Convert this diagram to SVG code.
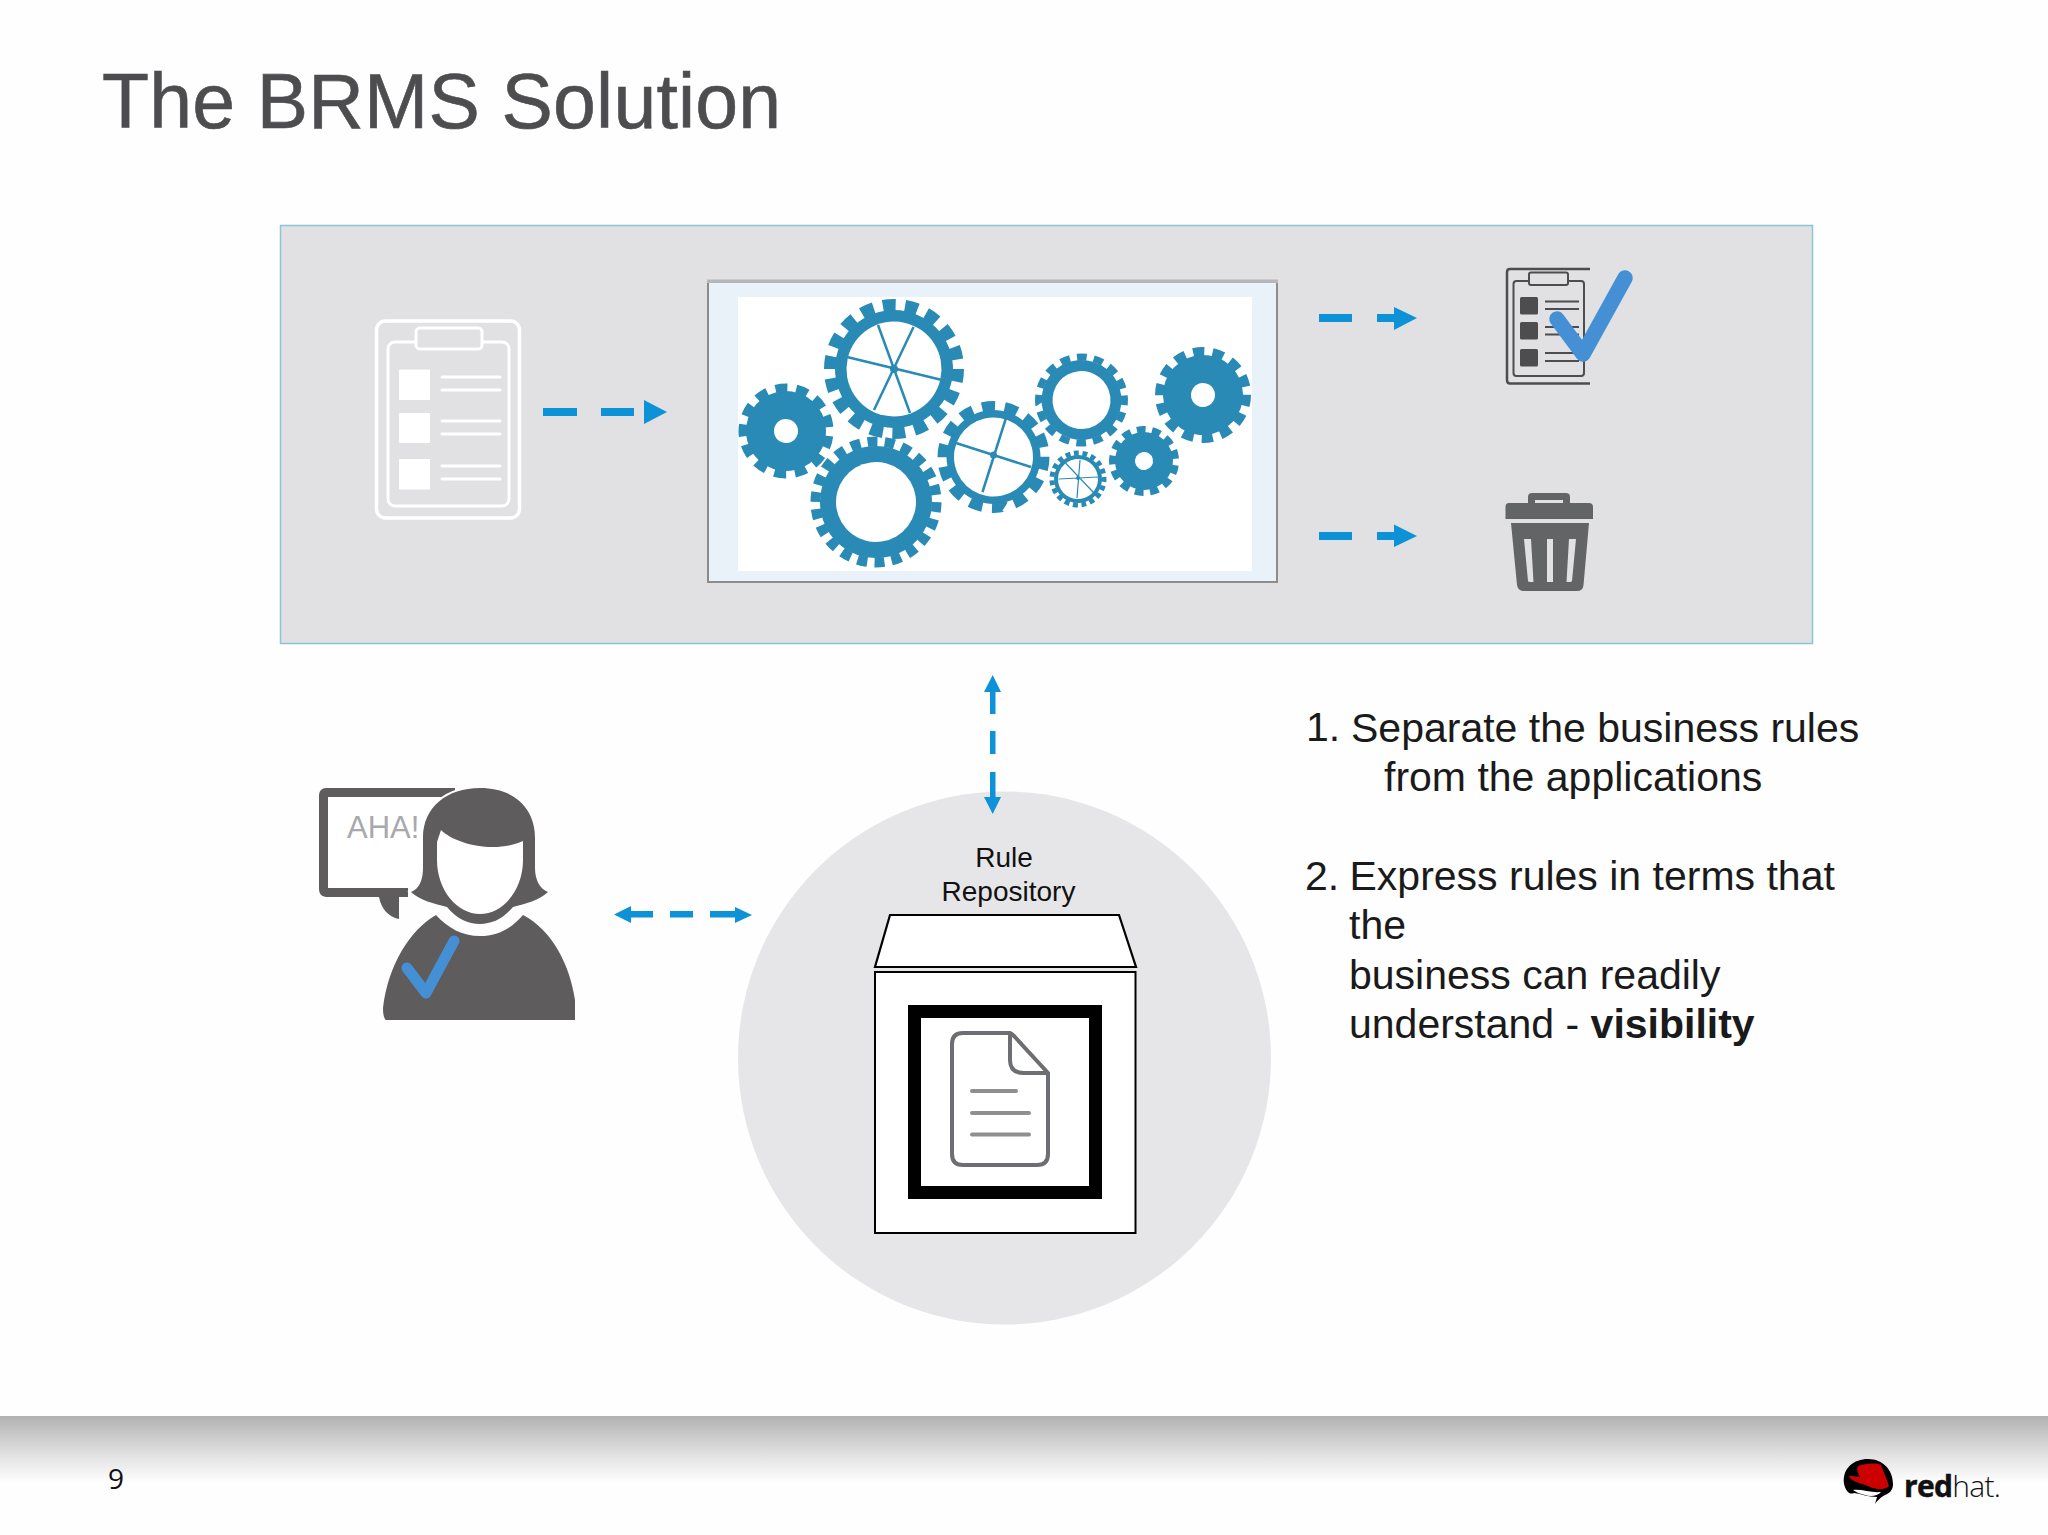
<svg xmlns="http://www.w3.org/2000/svg" width="2048" height="1535" viewBox="0 0 2048 1535">
<defs>
<linearGradient id="foot" x1="0" y1="0" x2="0" y2="1"><stop offset="0" stop-color="#b2b2b3"/><stop offset=".6" stop-color="#e2e2e2"/><stop offset="1" stop-color="#fefefe"/></linearGradient>
</defs>
<style>
text{font-family:"Liberation Sans",Arial,sans-serif}
.ar{fill:#0d92d8}
.g{fill:#2a8ab6}
.h{fill:#fff}
.t{fill:none;stroke:#2a8ab6;stroke-dasharray:1.15 .85}
.sp{stroke:#2a8ab6;fill:none}
.body{font-size:41px;fill:#1a1a1a}
.dk{fill:none;stroke:#4d4d4f}
.dkf{fill:#4d4d4f}
.wh{fill:none;stroke:#fff}
.whf{fill:#fff}
.chk{fill:none;stroke:#4590d5;stroke-linecap:round;stroke-linejoin:round}
.ps{fill:#5e5c5d}
.tr{fill:#636466}
.bk{fill:none;stroke:#000}
.docl{stroke:#8f8f90;stroke-width:4;stroke-linecap:round}
</style>
<rect width="2048" height="1535" fill="#fefefe"/>
<text id="title" x="102" y="128" font-size="77" letter-spacing=".18" fill="#4d4d4f" stroke="#4d4d4f" stroke-width=".6">The BRMS Solution</text>
<rect id="pipeline" x="280.500" y="225.500" width="1532" height="418" fill="#e1e1e3" stroke="#8cc4d8" stroke-width="1.500"/>

<g id="clipboard-in">
<rect class="wh" x="376.500" y="321" width="143" height="197" rx="9" stroke-width="3.500"/>
<rect class="wh" x="388" y="342" width="121" height="164" rx="7" stroke-width="3"/>
<rect x="416" y="328" width="66" height="21" rx="4" fill="#e1e1e3" stroke="#fff" stroke-width="3"/>
<rect class="whf" x="399" y="369.500" width="31" height="30.500" rx="1"/>
<rect class="whf" x="399" y="413" width="31" height="30" rx="1"/>
<rect class="whf" x="399" y="459" width="31" height="30.500" rx="1"/>
<path class="wh" stroke-width="3" stroke-linecap="round" d="M442 377H500M442 390H500M442 421H500M442 434H500M442 466H500M442 479H500"/>
</g>

<g id="rule-engine">
<rect x="708" y="281" width="569" height="301" fill="#e8f2f8" stroke="#8a8c8e" stroke-width="2"/>
<rect x="707" y="279.500" width="571" height="3.500" fill="#b5b7ba"/>
<rect class="h" x="738" y="297" width="514" height="274"/>
<g transform="translate(894 369) rotate(-100)"><circle class="g" r="59"/><circle class="h" r="47.500"/><circle class="t" r="64" stroke-width="12" pathLength="36"/></g>
<path class="sp" stroke-width="2.500" d="M847 357L942 380M878 325L910 413M913.500 327L874 410"/><circle class="g" cx="894" cy="369" r="4"/>
<g transform="translate(786 431) rotate(-104)"><circle class="g" r="40"/><circle class="h" r="12"/><circle class="t" r="43" stroke-width="9" pathLength="26"/></g>
<g transform="translate(876 502) rotate(-98)"><circle class="g" r="56"/><circle class="h" r="40"/><circle class="t" r="60.500" stroke-width="10" pathLength="44"/></g>
<g transform="translate(993.500 457) rotate(-103)"><circle class="g" r="47"/><circle class="h" r="39.500"/><circle class="t" r="51" stroke-width="10" pathLength="28"/></g>
<path class="sp" stroke-width="2.500" d="M956 443L1031 467M1006 418L982.500 492"/><circle class="g" cx="993.500" cy="455" r="3.500"/>
<g transform="translate(1081.500 400) rotate(-96)"><circle class="g" r="40"/><circle class="h" r="29"/><circle class="t" r="43" stroke-width="7" pathLength="32"/></g>
<g transform="translate(1203 395) rotate(-103)"><circle class="g" r="40"/><circle class="h" r="12"/><circle class="t" r="43.500" stroke-width="9" pathLength="28"/></g>
<g transform="translate(1144 461) rotate(-103)"><circle class="g" r="29"/><circle class="h" r="9"/><circle class="t" r="31.500" stroke-width="7" pathLength="26"/></g>
<g transform="translate(1078 479) rotate(-99)"><circle class="g" r="24"/><circle class="h" r="20"/><circle class="t" r="26" stroke-width="5" pathLength="38"/></g>
<path class="sp" stroke-width="1.200" d="M1058.600 479L1098 477M1065.500 463L1094 493M1080 460L1077 498"/><circle class="g" cx="1078" cy="478" r="2"/>
</g>

<g id="clipboard-approved">
<path class="dk" stroke-width="2.500" d="M1590 269H1510Q1507 269 1507 272V380Q1507 383.500 1510 383.500H1590"/>
<rect class="dk" x="1513.500" y="281" width="70.500" height="95" rx="3" stroke-width="2"/>
<rect x="1529" y="272.500" width="39" height="12.500" rx="2" fill="#e1e1e3" stroke="#4d4d4f" stroke-width="2"/>
<rect class="dkf" x="1520" y="297" width="18" height="17.500" rx="1.500"/>
<rect class="dkf" x="1520" y="322" width="18" height="17.500" rx="1.500"/>
<rect class="dkf" x="1520" y="349" width="18" height="17.500" rx="1.500"/>
<path class="dk" stroke-width="2" d="M1545 301.500H1579M1545 309H1579M1545 327H1579M1545 334.500H1579M1545 353H1579M1545 361H1579"/>
<path class="chk" stroke-width="15.500" d="M1557 319L1583 354L1625 278"/>
</g>

<g id="trash">
<path class="tr" fill-rule="evenodd" d="M1528 503V497Q1528 493 1532 493H1566Q1570 493 1570 497V503H1589Q1593 503 1593 507V519H1505.500V507Q1505.500 503 1509 503ZM1535 500V503H1563V500Z"/>
<path class="tr" fill-rule="evenodd" d="M1511 523H1589L1583.500 585Q1583 591 1577 591H1524Q1518 591 1517 585ZM1524 539L1528 581Q1528.500 582 1530 582H1533.500L1531 539ZM1547 539V582H1553V539ZM1569 539L1566.500 582H1570Q1571.500 582 1572 581L1576 539Z"/>
</g>

<g id="person">
<path fill="#fff" stroke="#5e5c5d" stroke-width="9" d="M455 792.500H326Q323.500 792.500 323.500 795V889Q323.500 892.500 326 892.500H408"/>
<path class="ps" d="M379 897H399V919C388 917 381 908 379 897Z"/>
<rect class="ps" x="395" y="888" width="13" height="9"/>
<text x="347" y="838" font-size="31" fill="#a7a9ac">AHA!</text>
<path class="ps" stroke="#fff" stroke-width="4" paint-order="stroke" d="M480 788C513 788 535 807 535 838V868C535 880 540 889 548 892C540 900 525 904 513 907C503 919 492 924 480 924C468 924 457 919 447 907C435 904 419 900 411 892C419 889 423 880 423 868V838C423 807 447 788 480 788Z"/>
<path class="whf" d="M441 830C455 844 495 854 523 841V860C523 890 503 914 480 914C457 914 437 890 437 860V842Z"/>
<path class="ps" d="M436 915C448 928 462 936 480 936C498 936 512 928 523 915C552 930 570 965 575 1000V1020H386Q383 1018 383 1008C388 965 410 930 436 915Z"/>
<path class="chk" stroke-width="11" d="M407 968L426 993L454 941"/>
</g>

<g id="rule-repository">
<circle cx="1004.500" cy="1058" r="266.500" fill="#e6e6e8"/>
<text x="1004" y="867" font-size="28" fill="#111" text-anchor="middle">Rule</text>
<text x="1008.500" y="901" font-size="28" fill="#111" text-anchor="middle">Repository</text>
<path d="M890 915H1119L1136 967H875Z" fill="#fff" stroke="#000" stroke-width="2.200"/>
<rect x="875" y="972" width="260.500" height="261" fill="#fff" stroke="#000" stroke-width="2"/>
<rect class="bk" x="914.500" y="1011.500" width="181" height="181" stroke-width="13"/>
<path fill="none" stroke="#6d6e71" stroke-width="4" d="M1010 1033H963Q952 1033 952 1044V1154Q952 1165 963 1165H1037Q1048 1165 1048 1154V1073L1014 1036Q1011 1033 1010 1033V1060Q1010 1073 1024 1073H1048"/>
<path class="docl" d="M972 1091H1016M972 1113H1029M972 1134.500H1029"/>
</g>

<g id="connectors">
<path class="ar" d="M543 408H577V416H543ZM601 408H634V416H601ZM644 400L667 412L644 424Z"/>
<path class="ar" d="M1319 314H1352V322H1319ZM1377 314H1394V307L1417 318L1394 330V322H1377Z"/>
<path class="ar" d="M1319 532H1352V540H1319ZM1377 532H1394V524.500L1417 536L1394 547V540H1377Z"/>
<path class="ar" d="M990 714V692H984L992.700 675L1001 692H995.500V714ZM990 731H995.500V754H990ZM990 772H995.500V797H1001L992.700 814L984 797H990Z"/>
<path class="ar" d="M614 914.500L631 906V911H653V917.500H631V923ZM670 911H693V917.500H670ZM710 911H735V907L752 915L735 923V917.500H710Z"/>
</g>

<g id="notes">
<text class="body" x="1306" y="741">1.</text>
<text class="body" x="1351" y="741.500">Separate the business rules</text>
<text class="body" x="1384" y="790.500">from the applications</text>
<text class="body" x="1305" y="889.500">2.</text>
<text class="body" x="1349.500" y="889.500">Express rules in terms that</text>
<text class="body" x="1349" y="939">the</text>
<text class="body" x="1349" y="988.500">business can readily</text>
<text class="body" x="1349" y="1038">understand - <tspan font-weight="bold">visibility</tspan></text>
</g>

<g id="footer">
<rect x="0" y="1416" width="2048" height="66" fill="url(#foot)"/>
<text x="108" y="1489" font-size="28" fill="#111" style="font-family:'Open Sans',sans-serif">9</text>
<g id="logo">
<path fill="#000" d="M1844 1484C1842 1468 1854 1459 1868 1459C1883 1459 1893 1470 1893 1484C1893 1490 1890 1493 1885 1495C1880 1498 1878 1500 1875 1504L1877 1497C1868 1497 1862 1494 1854 1493C1850 1495 1846 1492 1844 1484Z"/>
<path fill="#fff" d="M1853 1490C1862 1489 1871 1493 1881 1492C1878 1496 1870 1497 1865 1495C1860 1494 1856 1492 1853 1490Z"/>
<path fill="#cc0000" d="M1858 1466C1864 1464 1875 1462 1881 1465C1885 1475 1887 1480 1889 1486C1885 1490 1878 1490 1870 1487C1862 1483 1854 1483 1849 1477C1850 1474 1855 1477 1860 1477C1858 1473 1856 1470 1858 1466Z"/>
<text x="1904" y="1497" font-size="30" fill="#111" letter-spacing="-.7" style="font-family:'Open Sans',sans-serif"><tspan font-weight="700" stroke="#111" stroke-width=".5">red</tspan><tspan font-weight="300">hat.</tspan></text>
</g>
</g>
</svg>
